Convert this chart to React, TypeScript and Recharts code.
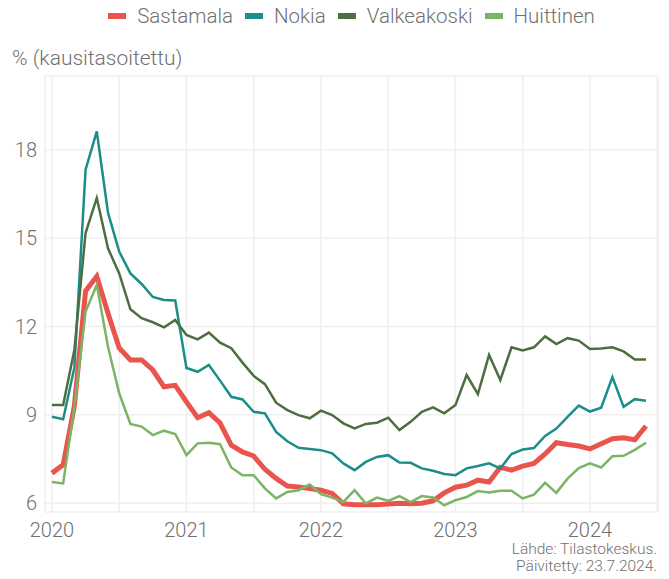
import { LineChart, Line, XAxis, YAxis, CartesianGrid } from 'recharts';

document.body.style.margin = '0';

// month index 0 = tammikuu 2020
const years = ['2020', '2021', '2022', '2023', '2024'];

const sastamala = [
  7.02, 7.3, 9.3, 13.2, 13.7, 12.45, 11.27, 10.86, 10.86, 10.52, 9.95, 10.0,
  9.44, 8.9, 9.07, 8.72, 7.97, 7.74, 7.6, 7.15, 6.84, 6.58, 6.55, 6.5,
  6.44, 6.33, 5.98, 5.95, 5.95, 5.95, 5.97, 6.0, 5.98, 6.0, 6.08, 6.35,
  6.54, 6.61, 6.78, 6.72, 7.22, 7.12, 7.26, 7.35, 7.67, 8.05, 7.99, 7.94,
  7.84, 8.02, 8.19, 8.22, 8.15, 8.62,
];
const nokia = [
  8.93, 8.85, 10.6, 17.32, 18.62, 15.86, 14.54, 13.8, 13.44, 13.0, 12.9, 12.88,
  10.59, 10.46, 10.69, 10.16, 9.61, 9.52, 9.1, 9.05, 8.42, 8.1, 7.88, 7.84,
  7.8, 7.69, 7.35, 7.12, 7.4, 7.57, 7.63, 7.38, 7.37, 7.18, 7.1, 6.99,
  6.95, 7.18, 7.26, 7.35, 7.18, 7.67, 7.82, 7.87, 8.28, 8.53, 8.93, 9.31,
  9.11, 9.24, 10.28, 9.27, 9.53, 9.48,
];
const valkeakoski = [
  9.33, 9.33, 11.2, 15.17, 16.36, 14.65, 13.8, 12.58, 12.28, 12.14, 11.97, 12.22,
  11.71, 11.56, 11.79, 11.45, 11.26, 10.77, 10.32, 10.04, 9.41, 9.16, 8.99, 8.88,
  9.14, 8.99, 8.71, 8.54, 8.69, 8.73, 8.9, 8.48, 8.76, 9.1, 9.25, 9.05,
  9.33, 10.35, 9.7, 11.03, 10.18, 11.29, 11.18, 11.29, 11.66, 11.4, 11.6, 11.52,
  11.23, 11.25, 11.29, 11.15, 10.88, 10.88,
];
const huittinen = [
  6.72, 6.67, 9.27, 12.5, 13.41, 11.31, 9.73, 8.69, 8.6, 8.31, 8.46, 8.35,
  7.63, 8.03, 8.05, 8.0, 7.21, 6.95, 6.95, 6.5, 6.16, 6.38, 6.44, 6.63,
  6.31, 6.19, 6.04, 6.44, 5.99, 6.19, 6.08, 6.24, 6.04, 6.24, 6.19, 5.93,
  6.1, 6.21, 6.41, 6.36, 6.42, 6.42, 6.16, 6.29, 6.69, 6.35, 6.83, 7.19,
  7.35, 7.21, 7.59, 7.61, 7.81, 8.05,
];

const yTicks = [6, 9, 12, 15, 18];
const xTicks = [0, 6, 12, 18, 24, 30, 36, 42, 48, 54];

const series = [
  { key: 'Sastamala', color: '#E9544D', width: 5 },
  { key: 'Nokia', color: '#1B8E89', width: 2.5 },
  { key: 'Valkeakoski', color: '#4D6F3F', width: 2.5 },
  { key: 'Huittinen', color: '#7BB465', width: 2.5 },
];

const data = sastamala.map((v, i) => ({
  t: i,
  Sastamala: v,
  Nokia: nokia[i],
  Valkeakoski: valkeakoski[i],
  Huittinen: huittinen[i],
}));

const font = 'Roboto, Lato, sans-serif';
const textColor = '#707070';

export default function App() {
  return (
    <div style={{ position: 'relative', width: 669, height: 579, background: '#fff', fontFamily: font }}>
      {/* legend centred over the plot panel */}
      <div
        style={{
          position: 'absolute',
          top: 4,
          left: 45,
          width: 613,
          display: 'flex',
          justifyContent: 'center',
          alignItems: 'center',
          fontSize: 20.5,
          fontWeight: 300,
          color: textColor,
        }}
      >
        {series.map((s) => (
          <div key={s.key} style={{ display: 'flex', alignItems: 'center', margin: '0 6px' }}>
            <div style={{ width: 18, height: 6, background: s.color, marginRight: 11 }} />
            <span>{s.key}</span>
          </div>
        ))}
      </div>
      <div style={{ position: 'absolute', left: 12, top: 46, fontSize: 21, fontWeight: 300, color: textColor }}>
        % (kausitasoitettu)
      </div>
      <LineChart
        width={669}
        height={579}
        data={data}
        margin={{ top: 76, right: 11, bottom: 0, left: 0 }}
      >
        <CartesianGrid stroke="#EFEFEF" strokeWidth={1.5} />
        <XAxis
          dataKey="t"
          type="number"
          domain={[-0.62, 54.07]}
          ticks={xTicks}
          tickFormatter={(t: number) => (t % 12 === 0 ? years[t / 12] ?? '' : '')}
          axisLine={false}
          tickLine={false}
          height={67}
          tickMargin={5}
          tick={{ fill: textColor, fontSize: 20, fontWeight: 300, fontFamily: font }}
          interval={0}
        />
        <YAxis
          type="number"
          domain={[5.7, 20.5]}
          ticks={yTicks}
          axisLine={false}
          tickLine={false}
          width={45}
          allowDataOverflow
          tick={{ fill: textColor, fontSize: 20, fontWeight: 300, fontFamily: font }}
        />
        {series.map((s) => (
          <Line
            key={s.key}
            type="linear"
            dataKey={s.key}
            stroke={s.color}
            strokeWidth={s.width}
            dot={false}
            isAnimationActive={false}
          />
        ))}
      </LineChart>
      <div
        style={{
          position: 'absolute',
          right: 12,
          top: 541,
          fontSize: 15.5,
          fontWeight: 300,
          lineHeight: '17px',
          color: textColor,
          textAlign: 'right',
        }}
      >
        Lähde: Tilastokeskus.
        <br />
        Päivitetty: 23.7.2024.
      </div>
    </div>
  );
}
